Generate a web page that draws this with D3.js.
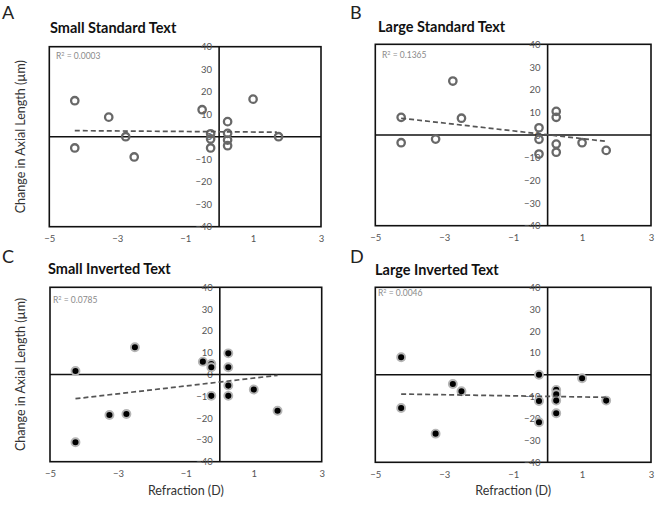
<!DOCTYPE html>
<html><head><meta charset="utf-8">
<script src="https://cdn.jsdelivr.net/npm/d3@7"></script>
<style>
html,body{margin:0;padding:0;background:#fff;}
svg{display:block;font-family:Lato,"Open Sans",sans-serif;}
</style></head>
<body><div id="chart"></div>
<script>
// ---- data ----
const xTicks = [-5, -3, -1, 1, 3];
const yTicks = [-40, -30, -20, -10, 0, 10, 20, 30, 40];
const panelLetters = ["A", "B", "C", "D"];
const panelTitles = ["Small Standard Text", "Large Standard Text", "Small Inverted Text", "Large Inverted Text"];
const r2Labels = ["0.0003", "0.1365", "0.0785", "0.0046"];

const refractionA = [-4.25, -4.25, -3.25, -2.75, -2.5, -0.5, -0.25, -0.25, -0.25, 0.25, 0.25, 0.25, 0.25, 1.0, 1.75];
const changeA     = [16, -5, 8.7, 0, -9, 12, 1.3, -1, -5, 6.7, 1.5, -1.5, -4, 16.7, 0];

const refractionB = [-4.25, -4.25, -3.25, -2.75, -2.5, -0.25, -0.25, -0.25, 0.25, 0.25, 0.25, 0.25, 1.0, 1.7];
const changeB     = [7.8, -3.4, -1.8, 23.8, 7.4, 3.2, -1.9, -8.4, 10.4, 7.8, -4, -7.6, -3.4, -6.8];

const refractionC = [-4.25, -4.25, -3.25, -2.75, -2.5, -0.5, -0.25, -0.25, -0.25, 0.25, 0.25, 0.25, 0.25, 1.0, 1.7];
const changeC     = [1.6, -31.1, -18.6, -18.1, 12.5, 5.9, 4.8, 3.3, -9.8, 9.7, 3.3, -5.1, -9.8, -6.9, -16.6];

const refractionD = [-4.25, -4.25, -3.25, -2.75, -2.5, -0.25, -0.25, -0.25, 0.25, 0.25, 0.25, 0.25, 1.0, 1.7];
const changeD     = [8, -15.2, -26.9, -4.2, -7.5, 0, -12, -21.7, -6.9, -8.9, -11.8, -17.6, -1.6, -11.8];

// trend line endpoints [x1, x2] and [y1, y2]
const trendX  = [-4.25, 1.7];
const trendYA = [2.7, 2.0];
const trendYB = [7.4, -2.8];
const trendYC = [-11.1, -0.4];
const trendYD = [-8.8, -10.3];

// ---- layout ----
const W = 659, H = 505;
const svg = d3.select("#chart").append("svg").attr("width", W).attr("height", H);

const panels = [
  {x: refractionA, y: changeA, ty: trendYA, filled: false, box: [49.3, 46.7, 321, 226.7], letter: [2, 19], title: [50, 33], r2: [56, 59], ylab: true,  xlab: false},
  {x: refractionB, y: changeB, ty: trendYB, filled: false, box: [375.3, 44.3, 651, 225.7], letter: [350, 19], title: [378, 32], r2: [382, 58], ylab: false, xlab: false},
  {x: refractionC, y: changeC, ty: trendYC, filled: true,  box: [50, 287.3, 321.7, 461.7], letter: [2, 263], title: [48, 274], r2: [53, 303], ylab: true,  xlab: true},
  {x: refractionD, y: changeD, ty: trendYD, filled: true,  box: [375.3, 287.3, 651, 462.3], letter: [350, 263], title: [375, 275], r2: [378, 296], ylab: false, xlab: true}
];

panels.forEach((p, i) => {
  const [x0, y0, x1, y1] = p.box;
  const xs = d3.scaleLinear().domain([-5, 3]).range([x0, x1]);
  const ys = d3.scaleLinear().domain([-40, 40]).range([y1, y0]);
  const g = svg.append("g");

  // panel letter
  g.append("text").attr("x", p.letter[0]).attr("y", p.letter[1])
    .attr("font-size", 18).attr("fill", "#222").text(panelLetters[i]);
  // title
  g.append("text").attr("x", p.title[0]).attr("y", p.title[1])
    .attr("font-size", 14.5).attr("font-weight", "bold").attr("fill", "#111").text(panelTitles[i]);

  // frame
  g.append("rect").attr("x", x0).attr("y", y0).attr("width", x1 - x0).attr("height", y1 - y0)
    .attr("fill", "none").attr("stroke", "#111").attr("stroke-width", 1.6);

  // x tick labels
  const xAxis = d3.axisBottom(xs).tickValues(xTicks).tickSize(0).tickPadding(9).tickFormat(d3.format("d"));
  const xg = g.append("g").attr("transform", `translate(0,${y1})`).call(xAxis);
  xg.select(".domain").remove();
  xg.selectAll("text").attr("font-size", 9.5).attr("fill", "#555").attr("font-family", "Lato, sans-serif");

  // y tick labels next to the vertical zero axis
  const yAxis = d3.axisLeft(ys).tickValues(yTicks).tickSize(0).tickPadding(7).tickFormat(d3.format("d"));
  const yg = g.append("g").attr("transform", `translate(${xs(0)},0)`).call(yAxis);
  yg.select(".domain").remove();
  yg.selectAll("text").attr("font-size", 9.5).attr("fill", "#555").attr("font-family", "Lato, sans-serif");

  // zero axes
  g.append("line").attr("x1", xs(0)).attr("x2", xs(0)).attr("y1", y0).attr("y2", y1)
    .attr("stroke", "#111").attr("stroke-width", 1.6);
  g.append("line").attr("x1", x0).attr("x2", x1).attr("y1", ys(0)).attr("y2", ys(0))
    .attr("stroke", "#111").attr("stroke-width", 1.6);

  // R2
  const r2 = g.append("text").attr("x", p.r2[0]).attr("y", p.r2[1]).attr("font-size", 8.5).attr("fill", "#8a8a8a");
  r2.append("tspan").text("R");
  r2.append("tspan").attr("dy", -3).attr("font-size", 5.5).text("2");
  r2.append("tspan").attr("dy", 3).text(" = " + r2Labels[i]);

  // points
  const pts = p.x.map((v, k) => ({x: v, y: p.y[k]}));
  if (p.filled) {
    g.selectAll("circle.pt").data(pts).enter().append("circle").attr("class", "pt")
      .attr("cx", d => xs(d.x)).attr("cy", d => ys(d.y)).attr("r", 4)
      .attr("fill", "#000").attr("stroke", "#b5b5b5").attr("stroke-width", 1.9);
  } else {
    g.selectAll("circle.pt").data(pts).enter().append("circle").attr("class", "pt")
      .attr("cx", d => xs(d.x)).attr("cy", d => ys(d.y)).attr("r", 3.7)
      .attr("fill", "none").attr("stroke", "#686868").attr("stroke-width", 2.3);
  }

  // trend line
  const tl = trendX.map((v, k) => [v, p.ty[k]]);
  g.append("path").datum(tl)
    .attr("d", d3.line().x(d => xs(d[0])).y(d => ys(d[1])))
    .attr("fill", "none").attr("stroke", "#555").attr("stroke-width", 1.7).attr("stroke-dasharray", "5,3");

  // axis titles
  if (p.ylab) {
    g.append("text").attr("transform", `translate(25,${(y0 + y1) / 2}) rotate(-90)`)
      .attr("text-anchor", "middle").attr("font-size", 12.5).attr("fill", "#333")
      .text("Change in Axial Length (µm)");
  }
  if (p.xlab) {
    g.append("text").attr("x", (x0 + x1) / 2).attr("y", y1 + 33)
      .attr("text-anchor", "middle").attr("font-size", 12.5).attr("fill", "#333")
      .text("Refraction (D)");
  }
});
</script>
</body></html>
